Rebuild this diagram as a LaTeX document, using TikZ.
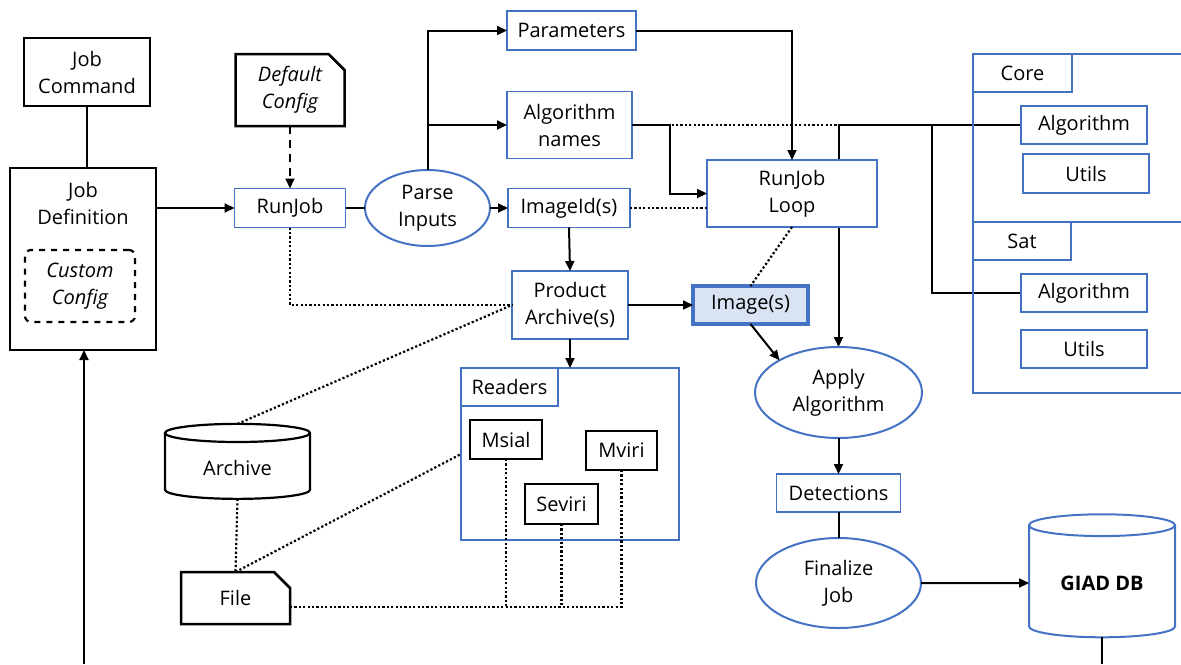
\documentclass[tikz,border=0pt]{standalone}
\usepackage{fontspec}
\setmainfont{Open Sans}
\usetikzlibrary{arrows.meta,positioning,shapes.geometric,shapes.misc,calc,backgrounds}
\definecolor{edgeblue}{RGB}{68,114,196}
\definecolor{imgfill}{RGB}{218,227,243}
\newcommand{\nodefont}{\fontsize{10}{13.5}\selectfont}
\tikzset{
  blk/.style={rectangle, draw=black, line width=1.25pt, fill=white, align=center, inner sep=1pt, outer sep=0pt, font=\nodefont},
  blu/.style={rectangle, draw=edgeblue, line width=0.8pt, fill=white, align=center, inner sep=1pt, outer sep=0pt, font=\nodefont},
  proc/.style={ellipse, draw=edgeblue, line width=1pt, fill=white, align=center, inner sep=0pt, outer sep=0pt, font=\nodefont},
  doc/.style={chamfered rectangle, chamfered rectangle corners=north east, chamfered rectangle xsep=4pt, chamfered rectangle ysep=4pt, draw=black, line width=1.25pt, fill=white, align=center, inner sep=1pt, outer sep=0pt, font=\nodefont},
  cfg/.style={rectangle, rounded corners=3pt, draw=black, dashed, line width=1.1pt, align=center, inner sep=1pt, font=\nodefont\itshape},
  db/.style={cylinder, shape border rotate=90, aspect=0.25, fill=white, align=center, inner sep=1pt, outer sep=0pt, font=\nodefont},
  txt/.style={align=center, inner sep=0pt, font=\nodefont},
  panel/.style={draw=edgeblue, line width=1.2pt},
  link/.style={line width=1pt, draw=black},
  arrow/.style={-{Triangle[length=5pt,width=4.5pt]}, line width=1pt, draw=black},
  dasharrow/.style={arrow, dash pattern=on 4pt off 3pt},
  dotline/.style={line width=1.1pt, dash pattern=on 1.1pt off 1.1pt, draw=black}
}

\begin{document}
\begin{tikzpicture}[x=0.5pt, y=-0.5pt]
\useasboundingbox (0,0) rectangle (1181,664);
% job side
\node[blk, minimum width=63pt, minimum height=34pt] (jobcmd) at (87,72) {Job\\Command};
\node[blk, minimum width=73pt, minimum height=91pt] (jobdef) at (83,259) {};
\node[txt] (jobdeftxt) at (83,203) {Job\\Definition};
\node[cfg, minimum width=55pt, minimum height=36pt] (custom) at (80,286) {Custom\\Config};
\node[doc, font=\nodefont\itshape, minimum width=54.5pt, minimum height=36pt] (defcfg) at (290,90) {Default\\Config};
\node[blu, minimum width=55.5pt, minimum height=19.5pt] (runjob) at (290,208) {RunJob};
\node[proc, minimum width=62.5pt, minimum height=38pt] (parse) at (427.5,208) {Parse\\Inputs};
% inputs
\node[blu, minimum width=64.5pt, minimum height=19.5pt] (params) at (571.5,30.5) {Parameters};
\node[blu, minimum width=62.5pt, minimum height=33.5pt] (algnames) at (569.5,125) {Algorithm\\names};
\node[blu, minimum width=61pt, minimum height=19.5pt] (imageid) at (569,208) {ImageId(s)};
\node[blu, minimum width=85pt, minimum height=33.5pt] (loop) at (792,193.5) {RunJob\\Loop};
\node[blu, line width=1pt, minimum width=58pt, minimum height=34pt] (product) at (570,305) {Product\\Archive(s)};
\node[blu, line width=1.75pt, fill=imgfill, minimum width=57.5pt, minimum height=19pt] (images) at (750.5,305) {Image(s)};
% processing
\node[proc, minimum width=83.5pt, minimum height=45.5pt] (apply) at (838.5,392.5) {Apply\\Algorithm};
\node[blu, minimum width=62pt, minimum height=19pt] (detect) at (838.5,493) {Detections};
\node[proc, minimum width=82.5pt, minimum height=45pt] (finalize) at (838.5,583) {Finalize\\Job};
\node[db, draw=edgeblue, line width=1pt, font=\nodefont\bfseries, minimum width=73pt, minimum height=61.5pt] (giad) at (1102,583) {GIAD DB};
% readers
\node[blu, line width=1pt, minimum width=109pt, minimum height=86pt] (readers) at (570,454) {};
\node[blu, anchor=north west, minimum width=48.5pt, minimum height=19pt] (readtab) at (readers.north west) {Readers};
\node[blk, minimum width=36pt, minimum height=19.5pt] (msial) at (506,439.5) {Msial};
\node[blk, minimum width=35.5pt, minimum height=19.5pt] (mviri) at (621.5,450.5) {Mviri};
\node[blk, minimum width=36.5pt, minimum height=20pt] (seviri) at (561.5,504) {Seviri};
\node[db, draw=black, line width=1.1pt, minimum width=72.5pt, minimum height=37.5pt] (archive) at (237.5,467.5) {Archive};
\node[doc, minimum width=54.5pt, minimum height=26pt] (file) at (235.5,598) {File};
% libraries
\draw[panel] (1181,54) -| (973,222) -- (1181,222);
\draw[panel] (973,222) |- (1181,393);
\node[blu, anchor=north west, minimum width=49.5pt, minimum height=19pt] (coretab) at (973,54) {Core};
\node[blu, minimum width=63pt, minimum height=19pt] (corealg) at (1084,125) {Algorithm};
\node[blu, minimum width=63pt, minimum height=19.5pt] (coreutils) at (1086,173.5) {Utils};
\node[blu, anchor=north west, minimum width=49pt, minimum height=19pt] (sattab) at (973,222) {Sat};
\node[blu, minimum width=63pt, minimum height=19pt] (satalg) at (1084,293) {Algorithm};
\node[blu, minimum width=63pt, minimum height=19pt] (satutils) at (1084,349) {Utils};

\begin{scope}[on background layer]
\draw[dotline] (algnames.east) -- (corealg.west);
\coordinate (algjoin) at ($(corealg.west)+(-89,0)$);
\draw[arrow] (corealg.west) -| (apply.north);
\draw[link] (satalg.west) -| (algjoin);
\end{scope}

\draw[link] (jobcmd.south) -- (jobcmd.south |- jobdef.north);
\coordinate (jobin) at (84,664);
\draw[arrow] (jobin) -- (jobin |- jobdef.south);
\draw[arrow] (jobdef.east |- runjob) -- (runjob.west);
\draw[dasharrow] (defcfg.south) -- (runjob.north);
\draw[link] (runjob.east) -- (parse.west);
\draw[arrow] (parse.north) |- (params.west);
\draw[arrow] (parse.north |- algnames) -- (algnames.west);
\draw[arrow] (parse.east) -- (imageid.west);
\draw[arrow] (params.east) -| (loop.north);
\draw[arrow] (algnames.east) -- ++(38,0) |- (loop.west);
\draw[dotline] (imageid.east) -- (imageid.east -| loop.west);
\draw[arrow] (imageid.south) -- (product.north);
\draw[dotline] (runjob.south) |- (product.west);
\draw[dotline] (archive.north) -- (product.west);
\draw[dotline] (archive.south) -- (file.north);
\draw[dotline] (file.north) -- (readers.west);
\coordinate (bus) at ($(file.east)+(0,9)$);
\draw[dotline] (bus) -| (mviri.south);
\draw[dotline] (msial.south) -- (msial.south |- bus);
\draw[dotline] (seviri.south) -- (seviri.south |- bus);
\draw[arrow] (product.east) -- (images.west);
\draw[arrow] (product.south) -- (readers.north);
\draw[dotline] (loop.south) -- (images.north);
\draw[arrow] (images.south) -- (apply.north west);
\draw[arrow] (apply.south) -- (detect.north);
\draw[link] (detect.south) -- (finalize.north);
\draw[arrow] (finalize.east) -- (giad.west);
\coordinate (giadout) at (1102,664);
\draw[link] (giad.south) -- (giadout);
\end{tikzpicture}
\end{document}
